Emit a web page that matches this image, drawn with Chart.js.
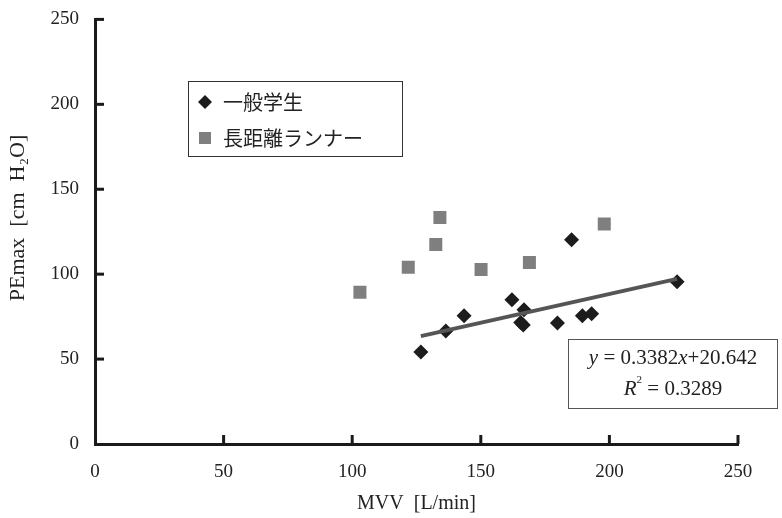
<!DOCTYPE html>
<html>
<head>
<meta charset="utf-8">
<script src="https://cdn.jsdelivr.net/npm/chart.js@4.4.1/dist/chart.umd.min.js"></script>
<style>
  body { margin: 0; background: #fff; }
  canvas { display: block; }
</style>
</head>
<body>
<canvas id="chart" width="782" height="518"></canvas>
<script>
// 一般学生 (diamonds)
const studentX = [126.7, 136.4, 143.5, 162.1, 166.8, 165.5, 166.5, 179.8, 189.5, 193.1, 185.3, 226.3];
const studentY = [54.2, 66.6, 75.5, 84.9, 79.0, 71.5, 70.0, 71.3, 75.5, 76.7, 120.3, 95.5];
// 長距離ランナー (squares)
const runnerX = [103.0, 121.8, 132.5, 134.1, 150.1, 168.9, 198.0];
const runnerY = [89.4, 104.0, 117.5, 133.4, 102.8, 106.9, 129.5];
// linear trend of 一般学生, end points
const trendX = [126.7, 226.3];
const trendY = [63.5, 97.2];
const tickValues = [0, 50, 100, 150, 200, 250];
const seriesNames = ['一般学生', '長距離ランナー'];

const toPoints = (xs, ys) => xs.map((x, i) => ({ x: x, y: ys[i] }));

const serif = '"Liberation Serif", "DejaVu Serif", serif';
const cjk = '"Noto Sans CJK JP", sans-serif';

// inward tick marks, legend box and equation box
const decor = {
  id: 'decor',
  afterDraw(chart) {
    const ctx = chart.ctx;
    const xs = chart.scales.x, ys = chart.scales.y;
    const area = chart.chartArea;
    ctx.save();
    ctx.strokeStyle = '#1a1a1a';
    ctx.lineWidth = 3;
    tickValues.forEach(v => {
      if (v === 0) return;
      const px = xs.getPixelForValue(v);
      ctx.beginPath(); ctx.moveTo(px, area.bottom); ctx.lineTo(px, area.bottom - 9); ctx.stroke();
      const py = ys.getPixelForValue(v);
      ctx.beginPath(); ctx.moveTo(area.left, py); ctx.lineTo(area.left + 9, py); ctx.stroke();
    });

    // legend
    ctx.lineWidth = 1;
    ctx.strokeStyle = '#333';
    ctx.fillStyle = '#fff';
    ctx.fillRect(188.5, 81.5, 214, 75);
    ctx.strokeRect(188.5, 81.5, 214, 75);
    ctx.fillStyle = '#1c1c1c';
    ctx.beginPath();
    ctx.moveTo(198, 102); ctx.lineTo(205, 95); ctx.lineTo(212, 102); ctx.lineTo(205, 109);
    ctx.closePath(); ctx.fill();
    ctx.fillStyle = '#7f7f7f';
    ctx.fillRect(199, 132, 12, 12);
    ctx.fillStyle = '#222';
    ctx.font = '20px ' + cjk;
    ctx.textBaseline = 'middle';
    ctx.textAlign = 'left';
    ctx.fillText(chart.data.datasets[0].label, 223, 102);
    ctx.fillText(chart.data.datasets[1].label, 223, 138);

    // equation box
    ctx.fillStyle = '#fff';
    ctx.fillRect(568.5, 339.5, 209, 69);
    ctx.strokeStyle = '#555';
    ctx.strokeRect(568.5, 339.5, 209, 69);
    ctx.fillStyle = '#222';
    const drawRuns = (runs, cx, cy) => {
      let total = 0;
      runs.forEach(r => { ctx.font = r.f; total += ctx.measureText(r.t).width; });
      let x = cx - total / 2;
      runs.forEach(r => {
        ctx.font = r.f;
        ctx.fillText(r.t, x, cy + (r.dy || 0));
        x += ctx.measureText(r.t).width;
      });
    };
    const n = '21px ' + serif, it = 'italic 21px ' + serif, sup = '11px ' + serif;
    drawRuns([{ t: 'y', f: it }, { t: ' = 0.3382', f: n }, { t: 'x', f: it }, { t: '+20.642', f: n }], 673, 358);
    drawRuns([{ t: 'R', f: it }, { t: '2', f: sup, dy: -9 }, { t: ' = 0.3289', f: n }], 673, 389);
    ctx.restore();
  }
};

new Chart(document.getElementById('chart'), {
  type: 'scatter',
  data: {
    datasets: [
      {
        label: seriesNames[0],
        data: toPoints(studentX, studentY),
        pointStyle: 'rectRot',
        pointRadius: 7.5,
        pointHoverRadius: 7.5,
        backgroundColor: '#1c1c1c',
        borderColor: '#1c1c1c',
        borderWidth: 0,
        order: 1
      },
      {
        label: seriesNames[1],
        data: toPoints(runnerX, runnerY),
        pointStyle: 'rect',
        pointRadius: 9.2,
        pointHoverRadius: 9.2,
        backgroundColor: '#7f7f7f',
        borderColor: '#7f7f7f',
        borderWidth: 0,
        order: 2
      },
      {
        type: 'line',
        label: 'trend',
        data: toPoints(trendX, trendY),
        borderColor: '#555555',
        borderWidth: 4,
        pointRadius: 0,
        fill: false,
        order: 0
      }
    ]
  },
  options: {
    responsive: false,
    animation: false,
    layout: { padding: { top: 0, right: 44, left: 0, bottom: 0 } },
    plugins: {
      legend: { display: false },
      tooltip: { enabled: false }
    },
    scales: {
      x: {
        type: 'linear',
        min: 0,
        max: 250,
        afterBuildTicks: s => { s.ticks = tickValues.map(v => ({ value: v })); },
        afterFit: s => { s.height = 74; },
        ticks: { color: '#222', font: { family: serif, size: 19 }, padding: 17, maxRotation: 0 },
        grid: { drawOnChartArea: false, drawTicks: false },
        border: { display: true, color: '#1a1a1a', width: 3 },
        title: { display: true, text: 'MVV  [L/min]', color: '#222', font: { family: serif, size: 20 }, padding: { top: 0, bottom: 2 } }
      },
      y: {
        type: 'linear',
        min: 0,
        max: 250,
        afterBuildTicks: s => { s.ticks = tickValues.map(v => ({ value: v })); },
        afterFit: s => { s.width = 95; },
        ticks: { color: '#222', font: { family: serif, size: 19 }, padding: 8 },
        grid: { drawOnChartArea: false, drawTicks: true, tickLength: 8, tickColor: 'rgba(0,0,0,0)' },
        border: { display: true, color: '#1a1a1a', width: 3 },
        title: { display: true, text: '\u2003 PEmax  [cm  H₂O]', color: '#222', font: { family: serif, size: 22 }, padding: { top: 5, bottom: 0 } }
      }
    }
  },
  plugins: [decor]
});
</script>
</body>
</html>
